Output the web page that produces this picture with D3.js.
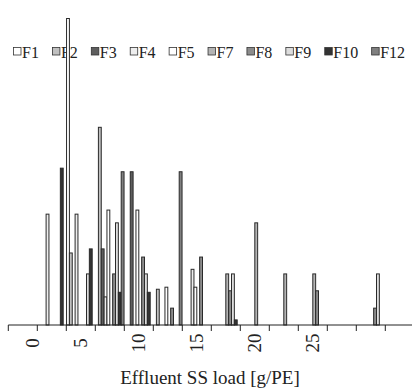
<!DOCTYPE html>
<html>
<head>
<meta charset="utf-8">
<script src="https://cdn.jsdelivr.net/npm/d3@7"></script>
<style>
  html, body { margin: 0; padding: 0; background: #fff; }
  svg { display: block; }
  text { font-family: "Liberation Serif", "Times New Roman", serif; fill: #222; }
</style>
</head>
<body>
<svg id="chart" width="412" height="392"></svg>
<script>
// ---- data ----
const categories = ["0", "2.5", "5", "7.5", "10", "12.5", "15", "17.5", "20", "22.5", "25", "27.5", "30", "32.5"];
const tickLabels = ["0", "", "5", "", "10", "", "15", "", "20", "", "25", "", "", ""];
const seriesNames = ["F1", "F2", "F3", "F4", "F5", "F7", "F8", "F9", "F10", "F12"];
const seriesColors = ["#ffffff", "#c0c0c0", "#5e5e5e", "#eeeeee", "#ffffff", "#b4b4b4", "#8c8c8c", "#dddddd", "#333333", "#808080"];

const F1  = [0, 0,    60,   0,    0,    0,   0,    0,   0,  0,  0,   0, 0,   0];
const F2  = [0, 0,    14.1, 38.7, 0,    7.0, 0,    0,   0,  0,  0,   0, 0,   0];
const F3  = [0, 0,    0,    14.9, 30,   0,   0,    0,   0,  0,  0,   0, 0,   0];
const F4  = [0, 21.7, 21.7, 5.5,  0,    0,   10.9, 0,   0,  0,  0,   0, 0,   0];
const F5  = [0, 0,    0,    22.5, 22.5, 7.4, 7.4,  0,   0,  0,  0,   0, 0,   0];
const F7  = [0, 0,    0,    0,    0,    0,   0,    10,  20, 10, 10,  0, 0,   0];
const F8  = [0, 0,    0,    10,   13.3, 3.3, 13.3, 6.7, 0,  0,  6.7, 0, 3.3, 0];
const F9  = [0, 0,    10,   20,   10,   0,   0,    10,  0,  0,  0,   0, 10,  0];
const F10 = [0, 30.7, 14.9, 6.4,  6.4,  0,   0,    1,   0,  0,  0,   0, 0,   0];
const F12 = [0, 0,    0,    30,   0,    30,  0,    0,   0,  0,  0,   0, 0,   0];
const seriesValues = [F1, F2, F3, F4, F5, F7, F8, F9, F10, F12];

const xTitle = "Effluent SS load [g/PE]";

// ---- layout ----
const W = 412, H = 392;
const baseY = 325, topY = 18.5;
const svg = d3.select("#chart");

const x = d3.scaleBand().domain(categories).range([8.3, 8.3 + 29 * categories.length]).padding(0);
const xs = d3.scaleBand().domain(seriesNames).range([0.25, x.bandwidth() - 0.25]).padding(0);
const y = d3.scaleLinear().domain([0, 60]).range([baseY, topY]);
const color = d3.scaleOrdinal().domain(seriesNames).range(seriesColors);

// ---- legend (drawn first; bars go over it) ----
const legend = svg.append("g").attr("transform", "translate(0,52)");
let lx = 13;
seriesNames.forEach((name) => {
  const g = legend.append("g").attr("transform", `translate(${lx},0)`);
  g.append("rect").attr("x", 0.5).attr("y", -4.5).attr("width", 7.5).attr("height", 7.5)
    .attr("fill", color(name)).attr("stroke", "#333").attr("stroke-width", 0.8);
  const t = g.append("text").attr("x", 9).attr("y", 5.5).attr("font-size", 16).text(name);
  const tw = t.node().getComputedTextLength();
  lx += 9 + tw + 13;
});

// ---- bars ----
const barData = [];
seriesNames.forEach((name, si) => {
  seriesValues[si].forEach((v, ci) => {
    if (v > 0) barData.push({ series: name, cat: categories[ci], value: v });
  });
});

svg.append("g").selectAll("rect").data(barData).join("rect")
  .attr("x", d => x(d.cat) + xs(d.series))
  .attr("y", d => y(d.value))
  .attr("width", xs.bandwidth())
  .attr("height", d => baseY - y(d.value))
  .attr("fill", d => color(d.series))
  .attr("stroke", "#2a2a2a")
  .attr("stroke-width", 1);

// ---- x axis ----
const axis = svg.append("g");
axis.append("line").attr("x1", x.range()[0]).attr("x2", W).attr("y1", baseY).attr("y2", baseY)
  .attr("stroke", "#222").attr("stroke-width", 1);
axis.selectAll("line.tick").data(categories).join("line").attr("class", "tick")
  .attr("x1", d => x(d)).attr("x2", d => x(d))
  .attr("y1", baseY).attr("y2", baseY + 6)
  .attr("stroke", "#222").attr("stroke-width", 1);
axis.selectAll("text.lbl").data(categories.map((c, i) => ({ c, t: tickLabels[i], i })).filter(d => d.t !== ""))
  .join("text").attr("class", "lbl")
  .attr("transform", d => `translate(${Math.max(x(d.c) + x.bandwidth() / 2, 32)},343) rotate(-90)`)
  .attr("text-anchor", "middle").attr("dy", "0.35em")
  .attr("font-size", 19).text(d => d.t);

svg.append("text").attr("x", 210).attr("y", 384).attr("text-anchor", "middle")
  .attr("font-size", 19).text(xTitle);
</script>
</body>
</html>
